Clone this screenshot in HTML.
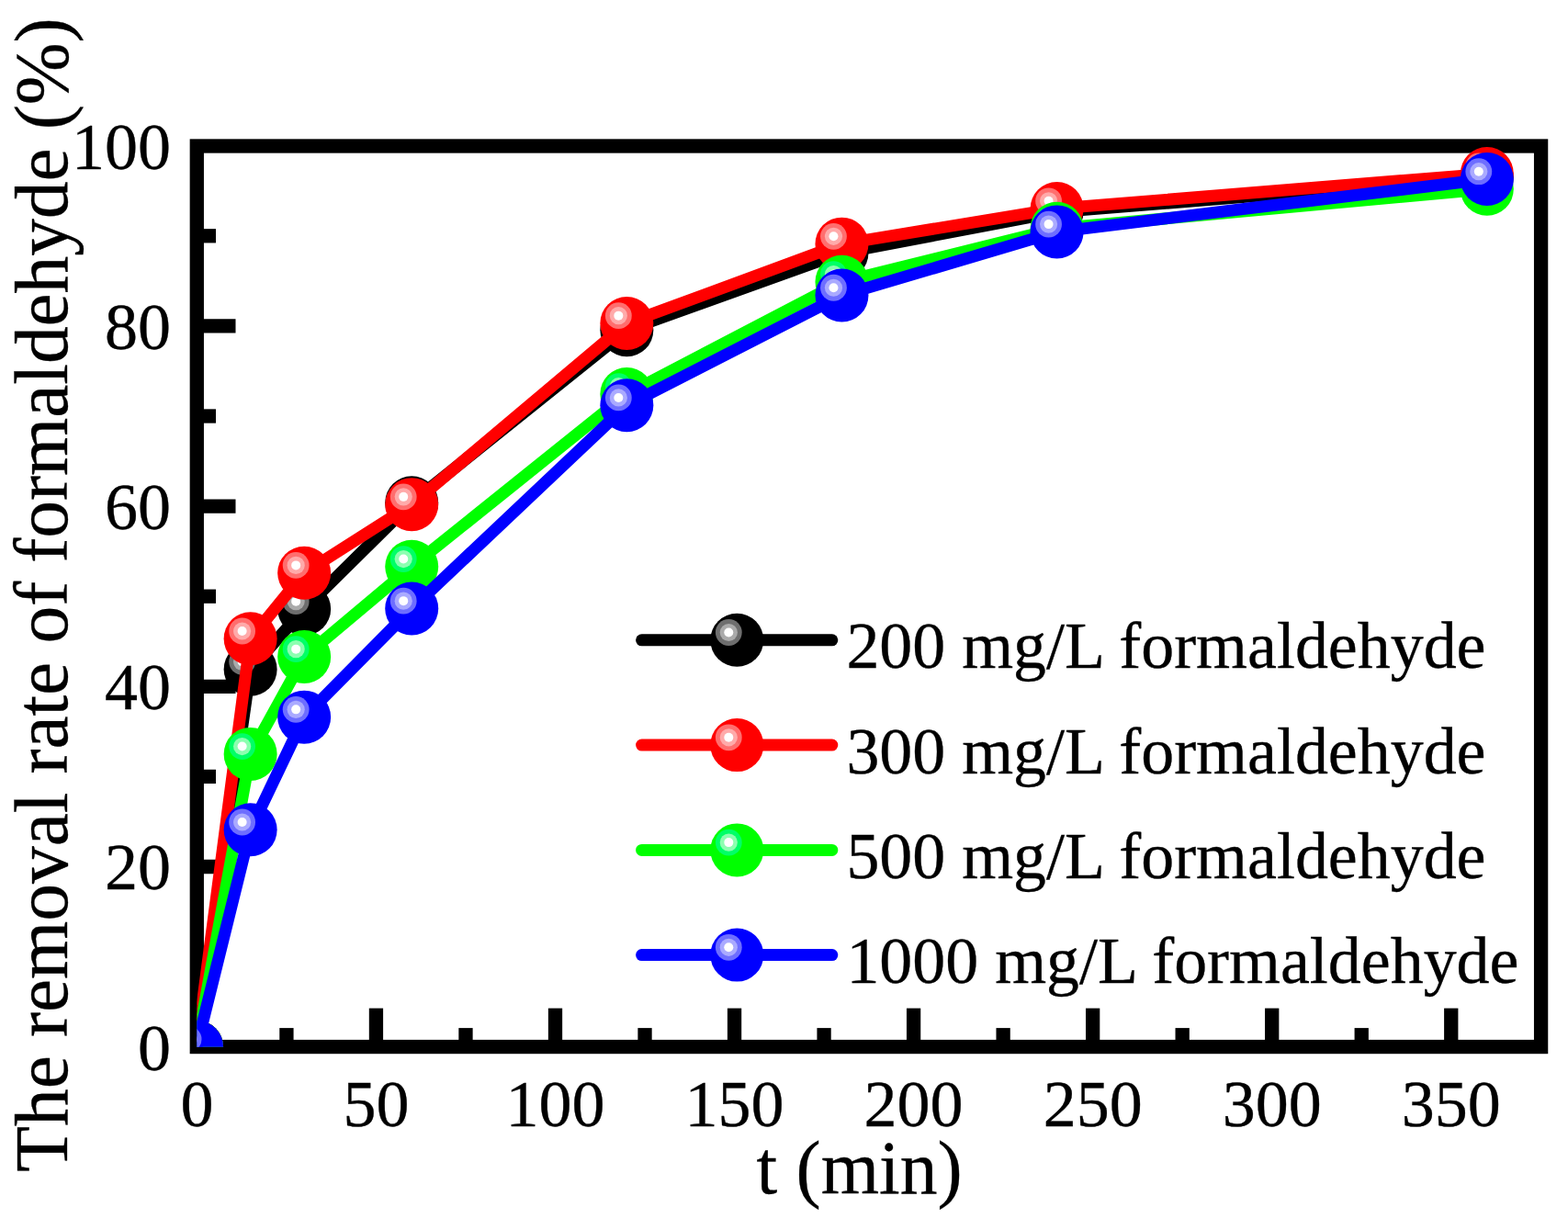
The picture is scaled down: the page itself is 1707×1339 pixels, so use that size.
<!DOCTYPE html>
<html lang="en"><head><meta charset="utf-8"><title>The removal rate of formaldehyde</title>
<style>
html,body{margin:0;padding:0;background:#fff;}
body{width:1707px;height:1339px;overflow:hidden;}
svg{display:block;}
text{font-family:"Liberation Serif",serif;fill:#000;stroke:#000;stroke-width:0.35px;}
.tk{font-size:72.0px;}
.tt{font-size:81.5px;}
.yt{letter-spacing:-0.115px;}
.lg{font-size:71.9px;}
</style></head><body>
<svg width="1707" height="1339" viewBox="0 0 1707 1339">
<defs><clipPath id="plot"><rect x="214.40" y="151.05" width="1470.53" height="988.65"/></clipPath></defs>
<rect x="0" y="0" width="1707" height="1339" fill="#fff"/>

<g stroke="#000" stroke-width="15.3" fill="none">
<rect x="214.3" y="159.0" width="1463.30" height="980.55"/>
<line x1="311.93" y1="1139.70" x2="311.93" y2="1119.10"/>
<line x1="409.45" y1="1139.70" x2="409.45" y2="1097.60"/>
<line x1="506.98" y1="1139.70" x2="506.98" y2="1119.10"/>
<line x1="604.50" y1="1139.70" x2="604.50" y2="1097.60"/>
<line x1="702.02" y1="1139.70" x2="702.02" y2="1119.10"/>
<line x1="799.55" y1="1139.70" x2="799.55" y2="1097.60"/>
<line x1="897.07" y1="1139.70" x2="897.07" y2="1119.10"/>
<line x1="994.60" y1="1139.70" x2="994.60" y2="1097.60"/>
<line x1="1092.12" y1="1139.70" x2="1092.12" y2="1119.10"/>
<line x1="1189.65" y1="1139.70" x2="1189.65" y2="1097.60"/>
<line x1="1287.17" y1="1139.70" x2="1287.17" y2="1119.10"/>
<line x1="1384.70" y1="1139.70" x2="1384.70" y2="1097.60"/>
<line x1="1482.23" y1="1139.70" x2="1482.23" y2="1119.10"/>
<line x1="1579.75" y1="1139.70" x2="1579.75" y2="1097.60"/>
<line x1="214.40" y1="1041.60" x2="235.00" y2="1041.60"/>
<line x1="214.40" y1="943.50" x2="256.50" y2="943.50"/>
<line x1="214.40" y1="845.40" x2="235.00" y2="845.40"/>
<line x1="214.40" y1="747.30" x2="256.50" y2="747.30"/>
<line x1="214.40" y1="649.20" x2="235.00" y2="649.20"/>
<line x1="214.40" y1="551.10" x2="256.50" y2="551.10"/>
<line x1="214.40" y1="453.00" x2="235.00" y2="453.00"/>
<line x1="214.40" y1="354.90" x2="256.50" y2="354.90"/>
<line x1="214.40" y1="256.80" x2="235.00" y2="256.80"/>
</g>
<g class="tk">
<text x="214.40" y="1225.6" text-anchor="middle">0</text>
<text x="409.45" y="1225.6" text-anchor="middle">50</text>
<text x="604.50" y="1225.6" text-anchor="middle">100</text>
<text x="799.55" y="1225.6" text-anchor="middle">150</text>
<text x="994.60" y="1225.6" text-anchor="middle">200</text>
<text x="1189.65" y="1225.6" text-anchor="middle">250</text>
<text x="1384.70" y="1225.6" text-anchor="middle">300</text>
<text x="1579.75" y="1225.6" text-anchor="middle">350</text>
<text x="186.0" y="1164.60" text-anchor="end">0</text>
<text x="186.0" y="968.40" text-anchor="end">20</text>
<text x="186.0" y="772.20" text-anchor="end">40</text>
<text x="186.0" y="576.00" text-anchor="end">60</text>
<text x="186.0" y="379.80" text-anchor="end">80</text>
<text x="186.0" y="183.60" text-anchor="end">100</text>
</g>
<text class="tt" x="935.6" y="1299.3" text-anchor="middle">t (min)</text>
<text class="tt yt" transform="translate(72.6,647.5) rotate(-90)" text-anchor="middle">The removal rate of formaldehyde (%)</text>
<g clip-path="url(#plot)">
<path d="M214.10,1139.70L272.63,728.66L331.16,662.93L448.22,547.18L682.34,359.31L916.46,275.44L1150.58,230.80L1618.82,193.03" fill="none" stroke="#000000" stroke-width="13.0" stroke-linejoin="round" stroke-linecap="butt"/>
<circle cx="214.10" cy="1139.70" r="29.0" fill="#000000"/><circle cx="205.10" cy="1131.40" r="14.4" fill="#6e6e6e"/><circle cx="205.10" cy="1131.40" r="9.6" fill="#aaaaaa"/><circle cx="205.10" cy="1131.40" r="5.0" fill="#ffffff"/>
<circle cx="272.63" cy="728.66" r="29.0" fill="#000000"/><circle cx="263.63" cy="720.36" r="14.4" fill="#6e6e6e"/><circle cx="263.63" cy="720.36" r="9.6" fill="#aaaaaa"/><circle cx="263.63" cy="720.36" r="5.0" fill="#ffffff"/>
<circle cx="331.16" cy="662.93" r="29.0" fill="#000000"/><circle cx="322.16" cy="654.63" r="14.4" fill="#6e6e6e"/><circle cx="322.16" cy="654.63" r="9.6" fill="#aaaaaa"/><circle cx="322.16" cy="654.63" r="5.0" fill="#ffffff"/>
<circle cx="448.22" cy="547.18" r="29.0" fill="#000000"/><circle cx="439.22" cy="538.88" r="14.4" fill="#6e6e6e"/><circle cx="439.22" cy="538.88" r="9.6" fill="#aaaaaa"/><circle cx="439.22" cy="538.88" r="5.0" fill="#ffffff"/>
<circle cx="682.34" cy="359.31" r="29.0" fill="#000000"/><circle cx="673.34" cy="351.01" r="14.4" fill="#6e6e6e"/><circle cx="673.34" cy="351.01" r="9.6" fill="#aaaaaa"/><circle cx="673.34" cy="351.01" r="5.0" fill="#ffffff"/>
<circle cx="916.46" cy="275.44" r="29.0" fill="#000000"/><circle cx="907.46" cy="267.14" r="14.4" fill="#6e6e6e"/><circle cx="907.46" cy="267.14" r="9.6" fill="#aaaaaa"/><circle cx="907.46" cy="267.14" r="5.0" fill="#ffffff"/>
<circle cx="1150.58" cy="230.80" r="29.0" fill="#000000"/><circle cx="1141.58" cy="222.50" r="14.4" fill="#6e6e6e"/><circle cx="1141.58" cy="222.50" r="9.6" fill="#aaaaaa"/><circle cx="1141.58" cy="222.50" r="5.0" fill="#ffffff"/>
<circle cx="1618.82" cy="193.03" r="29.0" fill="#000000"/><circle cx="1609.82" cy="184.73" r="14.4" fill="#6e6e6e"/><circle cx="1609.82" cy="184.73" r="9.6" fill="#aaaaaa"/><circle cx="1609.82" cy="184.73" r="5.0" fill="#ffffff"/>
<path d="M214.10,1139.70L272.63,695.31L331.16,623.69L448.22,549.14L682.34,351.96L916.46,265.63L1150.58,227.08L1618.82,189.11" fill="none" stroke="#ff0000" stroke-width="13.0" stroke-linejoin="round" stroke-linecap="butt"/>
<circle cx="214.10" cy="1139.70" r="29.0" fill="#ff0000"/><circle cx="205.10" cy="1131.40" r="14.4" fill="#ff6e6e"/><circle cx="205.10" cy="1131.40" r="9.6" fill="#ffaaaa"/><circle cx="205.10" cy="1131.40" r="5.0" fill="#ffffff"/>
<circle cx="272.63" cy="695.31" r="29.0" fill="#ff0000"/><circle cx="263.63" cy="687.01" r="14.4" fill="#ff6e6e"/><circle cx="263.63" cy="687.01" r="9.6" fill="#ffaaaa"/><circle cx="263.63" cy="687.01" r="5.0" fill="#ffffff"/>
<circle cx="331.16" cy="623.69" r="29.0" fill="#ff0000"/><circle cx="322.16" cy="615.39" r="14.4" fill="#ff6e6e"/><circle cx="322.16" cy="615.39" r="9.6" fill="#ffaaaa"/><circle cx="322.16" cy="615.39" r="5.0" fill="#ffffff"/>
<circle cx="448.22" cy="549.14" r="29.0" fill="#ff0000"/><circle cx="439.22" cy="540.84" r="14.4" fill="#ff6e6e"/><circle cx="439.22" cy="540.84" r="9.6" fill="#ffaaaa"/><circle cx="439.22" cy="540.84" r="5.0" fill="#ffffff"/>
<circle cx="682.34" cy="351.96" r="29.0" fill="#ff0000"/><circle cx="673.34" cy="343.66" r="14.4" fill="#ff6e6e"/><circle cx="673.34" cy="343.66" r="9.6" fill="#ffaaaa"/><circle cx="673.34" cy="343.66" r="5.0" fill="#ffffff"/>
<circle cx="916.46" cy="265.63" r="29.0" fill="#ff0000"/><circle cx="907.46" cy="257.33" r="14.4" fill="#ff6e6e"/><circle cx="907.46" cy="257.33" r="9.6" fill="#ffaaaa"/><circle cx="907.46" cy="257.33" r="5.0" fill="#ffffff"/>
<circle cx="1150.58" cy="227.08" r="29.0" fill="#ff0000"/><circle cx="1141.58" cy="218.78" r="14.4" fill="#ff6e6e"/><circle cx="1141.58" cy="218.78" r="9.6" fill="#ffaaaa"/><circle cx="1141.58" cy="218.78" r="5.0" fill="#ffffff"/>
<circle cx="1618.82" cy="189.11" r="29.0" fill="#ff0000"/><circle cx="1609.82" cy="180.81" r="14.4" fill="#ff6e6e"/><circle cx="1609.82" cy="180.81" r="9.6" fill="#ffaaaa"/><circle cx="1609.82" cy="180.81" r="5.0" fill="#ffffff"/>
<path d="M214.10,1139.70L272.63,820.88L331.16,714.93L448.22,616.83L682.34,428.97L916.46,306.83L1150.58,248.76L1618.82,205.79" fill="none" stroke="#00ff00" stroke-width="13.0" stroke-linejoin="round" stroke-linecap="butt"/>
<circle cx="214.10" cy="1139.70" r="29.0" fill="#00ff00"/><circle cx="205.10" cy="1131.40" r="14.4" fill="#00ff66"/><circle cx="205.10" cy="1131.40" r="9.6" fill="#8cffb0"/><circle cx="205.10" cy="1131.40" r="5.0" fill="#ffffff"/>
<circle cx="272.63" cy="820.88" r="29.0" fill="#00ff00"/><circle cx="263.63" cy="812.58" r="14.4" fill="#00ff66"/><circle cx="263.63" cy="812.58" r="9.6" fill="#8cffb0"/><circle cx="263.63" cy="812.58" r="5.0" fill="#ffffff"/>
<circle cx="331.16" cy="714.93" r="29.0" fill="#00ff00"/><circle cx="322.16" cy="706.63" r="14.4" fill="#00ff66"/><circle cx="322.16" cy="706.63" r="9.6" fill="#8cffb0"/><circle cx="322.16" cy="706.63" r="5.0" fill="#ffffff"/>
<circle cx="448.22" cy="616.83" r="29.0" fill="#00ff00"/><circle cx="439.22" cy="608.53" r="14.4" fill="#00ff66"/><circle cx="439.22" cy="608.53" r="9.6" fill="#8cffb0"/><circle cx="439.22" cy="608.53" r="5.0" fill="#ffffff"/>
<circle cx="682.34" cy="428.97" r="29.0" fill="#00ff00"/><circle cx="673.34" cy="420.67" r="14.4" fill="#00ff66"/><circle cx="673.34" cy="420.67" r="9.6" fill="#8cffb0"/><circle cx="673.34" cy="420.67" r="5.0" fill="#ffffff"/>
<circle cx="916.46" cy="306.83" r="29.0" fill="#00ff00"/><circle cx="907.46" cy="298.53" r="14.4" fill="#00ff66"/><circle cx="907.46" cy="298.53" r="9.6" fill="#8cffb0"/><circle cx="907.46" cy="298.53" r="5.0" fill="#ffffff"/>
<circle cx="1150.58" cy="248.76" r="29.0" fill="#00ff00"/><circle cx="1141.58" cy="240.46" r="14.4" fill="#00ff66"/><circle cx="1141.58" cy="240.46" r="9.6" fill="#8cffb0"/><circle cx="1141.58" cy="240.46" r="5.0" fill="#ffffff"/>
<circle cx="1618.82" cy="205.79" r="29.0" fill="#00ff00"/><circle cx="1609.82" cy="197.49" r="14.4" fill="#00ff66"/><circle cx="1609.82" cy="197.49" r="9.6" fill="#8cffb0"/><circle cx="1609.82" cy="197.49" r="5.0" fill="#ffffff"/>
<path d="M214.10,1139.70L272.63,903.28L331.16,780.65L448.22,662.44L682.34,441.23L916.46,321.55L1150.58,252.39L1618.82,195.00" fill="none" stroke="#0000ff" stroke-width="13.0" stroke-linejoin="round" stroke-linecap="butt"/>
<circle cx="214.10" cy="1139.70" r="29.0" fill="#0000ff"/><circle cx="205.10" cy="1131.40" r="14.4" fill="#6e6eff"/><circle cx="205.10" cy="1131.40" r="9.6" fill="#aaaaff"/><circle cx="205.10" cy="1131.40" r="5.0" fill="#ffffff"/>
<circle cx="272.63" cy="903.28" r="29.0" fill="#0000ff"/><circle cx="263.63" cy="894.98" r="14.4" fill="#6e6eff"/><circle cx="263.63" cy="894.98" r="9.6" fill="#aaaaff"/><circle cx="263.63" cy="894.98" r="5.0" fill="#ffffff"/>
<circle cx="331.16" cy="780.65" r="29.0" fill="#0000ff"/><circle cx="322.16" cy="772.35" r="14.4" fill="#6e6eff"/><circle cx="322.16" cy="772.35" r="9.6" fill="#aaaaff"/><circle cx="322.16" cy="772.35" r="5.0" fill="#ffffff"/>
<circle cx="448.22" cy="662.44" r="29.0" fill="#0000ff"/><circle cx="439.22" cy="654.14" r="14.4" fill="#6e6eff"/><circle cx="439.22" cy="654.14" r="9.6" fill="#aaaaff"/><circle cx="439.22" cy="654.14" r="5.0" fill="#ffffff"/>
<circle cx="682.34" cy="441.23" r="29.0" fill="#0000ff"/><circle cx="673.34" cy="432.93" r="14.4" fill="#6e6eff"/><circle cx="673.34" cy="432.93" r="9.6" fill="#aaaaff"/><circle cx="673.34" cy="432.93" r="5.0" fill="#ffffff"/>
<circle cx="916.46" cy="321.55" r="29.0" fill="#0000ff"/><circle cx="907.46" cy="313.25" r="14.4" fill="#6e6eff"/><circle cx="907.46" cy="313.25" r="9.6" fill="#aaaaff"/><circle cx="907.46" cy="313.25" r="5.0" fill="#ffffff"/>
<circle cx="1150.58" cy="252.39" r="29.0" fill="#0000ff"/><circle cx="1141.58" cy="244.09" r="14.4" fill="#6e6eff"/><circle cx="1141.58" cy="244.09" r="9.6" fill="#aaaaff"/><circle cx="1141.58" cy="244.09" r="5.0" fill="#ffffff"/>
<circle cx="1618.82" cy="195.00" r="29.0" fill="#0000ff"/><circle cx="1609.82" cy="186.70" r="14.4" fill="#6e6eff"/><circle cx="1609.82" cy="186.70" r="9.6" fill="#aaaaff"/><circle cx="1609.82" cy="186.70" r="5.0" fill="#ffffff"/>
</g>
<line x1="698.6" y1="696.8" x2="905.8" y2="696.8" stroke="#000000" stroke-width="13" stroke-linecap="round"/>
<circle cx="802.30" cy="696.80" r="29.0" fill="#000000"/><circle cx="793.30" cy="688.50" r="14.4" fill="#6e6e6e"/><circle cx="793.30" cy="688.50" r="9.6" fill="#aaaaaa"/><circle cx="793.30" cy="688.50" r="5.0" fill="#ffffff"/>
<text class="lg" x="921.4" y="727.3">200 mg/L formaldehyde</text>
<line x1="698.6" y1="811.1" x2="905.8" y2="811.1" stroke="#ff0000" stroke-width="13" stroke-linecap="round"/>
<circle cx="802.30" cy="811.10" r="29.0" fill="#ff0000"/><circle cx="793.30" cy="802.80" r="14.4" fill="#ff6e6e"/><circle cx="793.30" cy="802.80" r="9.6" fill="#ffaaaa"/><circle cx="793.30" cy="802.80" r="5.0" fill="#ffffff"/>
<text class="lg" x="921.4" y="841.6">300 mg/L formaldehyde</text>
<line x1="698.6" y1="925.4" x2="905.8" y2="925.4" stroke="#00ff00" stroke-width="13" stroke-linecap="round"/>
<circle cx="802.30" cy="925.40" r="29.0" fill="#00ff00"/><circle cx="793.30" cy="917.10" r="14.4" fill="#00ff66"/><circle cx="793.30" cy="917.10" r="9.6" fill="#8cffb0"/><circle cx="793.30" cy="917.10" r="5.0" fill="#ffffff"/>
<text class="lg" x="921.4" y="955.9">500 mg/L formaldehyde</text>
<line x1="698.6" y1="1039.6" x2="905.8" y2="1039.6" stroke="#0000ff" stroke-width="13" stroke-linecap="round"/>
<circle cx="802.30" cy="1039.60" r="29.0" fill="#0000ff"/><circle cx="793.30" cy="1031.30" r="14.4" fill="#6e6eff"/><circle cx="793.30" cy="1031.30" r="9.6" fill="#aaaaff"/><circle cx="793.30" cy="1031.30" r="5.0" fill="#ffffff"/>
<text class="lg" x="921.4" y="1070.1">1000 mg/L formaldehyde</text>
</svg></body></html>
